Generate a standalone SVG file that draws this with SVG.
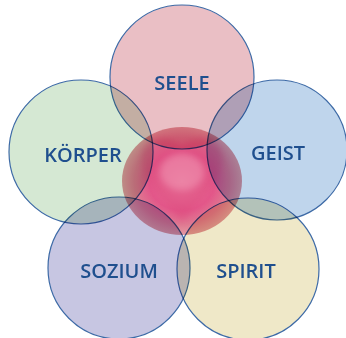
<svg xmlns="http://www.w3.org/2000/svg" width="346" height="338" viewBox="0 0 346 338">
<style>
.c{stroke:#3d6aa6;stroke-width:1.2;mix-blend-mode:multiply}
.t{font-family:"Open Sans","Liberation Sans",sans-serif;font-size:20px;font-weight:600;fill:#1f4f8e;text-anchor:middle}
</style>
<defs>
<radialGradient id="blob" cx="50%" cy="50%" r="50%">
<stop offset="0" stop-color="#ef8aa9"/>
<stop offset="0.55" stop-color="#e3578a"/>
<stop offset="0.8" stop-color="#df7891"/>
<stop offset="1" stop-color="#e49aa2"/>
</radialGradient>
<filter id="soft" x="-20%" y="-20%" width="140%" height="140%"><feGaussianBlur stdDeviation="3"/></filter>
</defs>
<rect width="346" height="338" fill="#ffffff"/>
<g id="heart">
<ellipse cx="182" cy="181" rx="60" ry="54" fill="url(#blob)"/>
<path d="M182 150 C170 130 140 135 142 162 C144 188 170 205 182 222 C194 205 220 188 222 162 C224 135 194 130 182 150 Z" fill="#dc4a7c" opacity="0.45" filter="url(#soft)"/>
<ellipse cx="182" cy="172" rx="22" ry="18" fill="#f29ab6" opacity="0.5" filter="url(#soft)"/>
</g>
<g id="seele"><circle class="c" cx="182" cy="77" r="72" fill="#eabfc5"/><text class="t" x="182" y="90">SEELE</text></g>
<g id="koerper"><circle class="c" cx="81" cy="152" r="72" fill="#d5e8d3"/><text class="t" x="83" y="162">KÖRPER</text></g>
<g id="geist"><circle class="c" cx="277" cy="150" r="70" fill="#bfd5ec"/><text class="t" x="278" y="160">GEIST</text></g>
<g id="sozium"><circle class="c" cx="119" cy="268" r="71" fill="#c7c6e2"/><text class="t" x="119" y="278">SOZIUM</text></g>
<g id="spirit"><circle class="c" cx="248" cy="269" r="71" fill="#efe8c8"/><text class="t" x="246" y="278">SPIRIT</text></g>
<g id="connectors"/>
</svg>
